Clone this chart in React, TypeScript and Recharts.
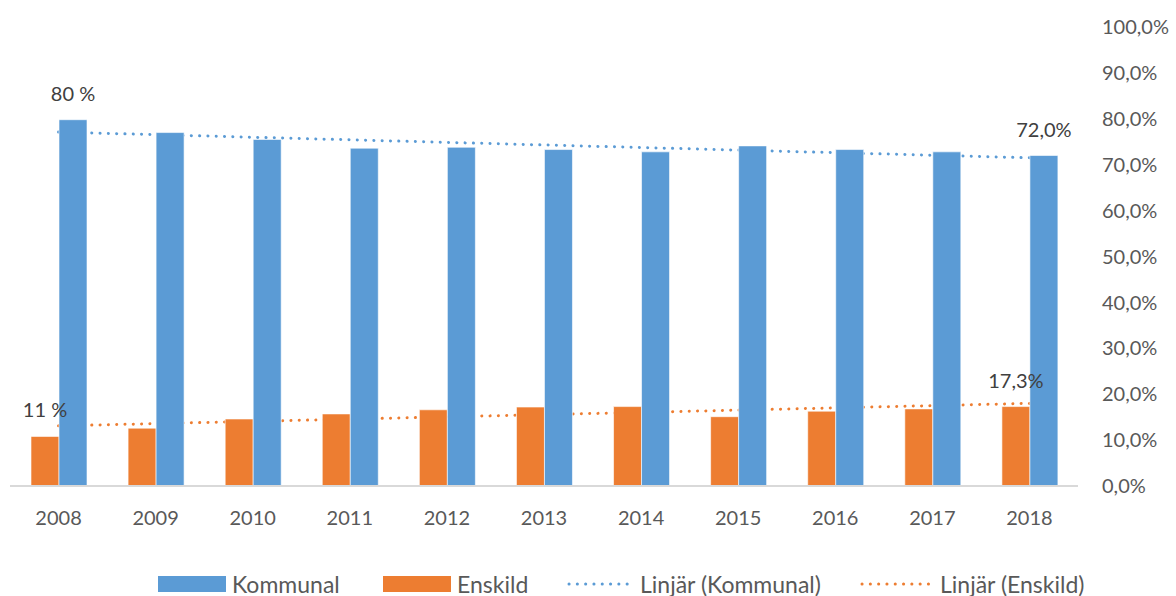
import React from "react";
import {
  ComposedChart, Bar, Line, XAxis, YAxis, Legend, LabelList,
} from "recharts";

const years = ["2008", "2009", "2010", "2011", "2012", "2013", "2014", "2015", "2016", "2017", "2018"];

// andel i procent
const kommunal = [79.8, 77.0, 75.5, 73.6, 73.8, 73.3, 72.8, 74.1, 73.3, 72.8, 72.0];
const enskild = [10.8, 12.6, 14.6, 15.7, 16.6, 17.2, 17.3, 15.1, 16.3, 16.8, 17.3];

// trendlinjernas ändpunkter (rak linje mellan dem)
const kommunalTrend = [77.1, null, null, null, null, null, null, null, null, null, 71.5];
const enskildTrend = [13.1, null, null, null, null, null, null, null, null, null, 18.0];

const kommunalLabels = ["80 %", "", "", "", "", "", "", "", "", "", "72,0%"];
const enskildLabels = ["11 %", "", "", "", "", "", "", "", "", "", "17,3%"];

const yTicks = [0, 10, 20, 30, 40, 50, 60, 70, 80, 90, 100];

const BLUE = "#5B9BD5";
const ORANGE = "#ED7D31";
const FONT = "Lato, 'Open Sans', sans-serif";

const data = years.map((year, i) => ({
  year,
  kommunal: kommunal[i],
  enskild: enskild[i],
  kommunalTrend: kommunalTrend[i],
  enskildTrend: enskildTrend[i],
  kLabel: kommunalLabels[i],
  eLabel: enskildLabels[i],
}));

const pct = (v: number) => `${v.toFixed(1).replace(".", ",")}%`;

function BarLabel(props: any) {
  const { value } = props;
  if (!value) return null;
  const vb = props.viewBox || props;
  const x = vb.x + vb.width / 2;
  return (
    <text
      x={x}
      y={vb.y - 24}
      textAnchor="middle"
      dominantBaseline="middle"
      fontSize={20}
      fontFamily={FONT}
      fill="#404040"
    >
      {value}
    </text>
  );
}

function DottedIcon({ color, width }: { color: string; width: number }) {
  return (
    <svg width={width} height={16} style={{ display: "block" }}>
      <line
        x1={2} y1={8} x2={width - 2} y2={8}
        stroke={color}
        strokeWidth={3}
        strokeLinecap="round"
        strokeDasharray="0.1 8.2"
      />
    </svg>
  );
}

// legendens x-positioner relativt legendrutan (som börjar vid x=10)
function ChartLegend() {
  const text: React.CSSProperties = {
    position: "absolute", top: 0, lineHeight: "24px",
    fontSize: 23, color: "#595959", fontFamily: FONT, whiteSpace: "nowrap",
  };
  const box = (c: string, left: number): React.CSSProperties => ({
    position: "absolute", left, top: 4, width: 68, height: 16, background: c,
  });
  return (
    <div style={{ position: "relative", height: 24 }}>
      <div style={box(BLUE, 148)} />
      <span style={{ ...text, left: 222 }}>Kommunal</span>
      <div style={box(ORANGE, 373)} />
      <span style={{ ...text, left: 447 }}>Enskild</span>
      <div style={{ position: "absolute", left: 557, top: 4 }}><DottedIcon color={BLUE} width={70} /></div>
      <span style={{ ...text, left: 630 }}>Linjär (Kommunal)</span>
      <div style={{ position: "absolute", left: 850, top: 4 }}><DottedIcon color={ORANGE} width={76} /></div>
      <span style={{ ...text, left: 930 }}>Linjär (Enskild)</span>
    </div>
  );
}

export default function App() {
  return (
    <div style={{ position: "absolute", left: 0, top: 0, width: 1176, height: 596, background: "#fff", fontFamily: FONT }}>
      <ComposedChart
        width={1176}
        height={596}
        data={data}
        margin={{ top: 27, right: 0, bottom: 0, left: 10 }}
        barGap={0}
        barCategoryGap="21%"
      >
        <XAxis
          dataKey="year"
          height={86}
          axisLine={{ stroke: "#D9D9D9", strokeWidth: 2 }}
          tickLine={false}
          tickSize={0}
          tickMargin={25}
          tick={{ fontSize: 20, fill: "#595959", fontFamily: FONT }}
        />
        <YAxis
          yAxisId="right"
          orientation="right"
          width={98}
          domain={[0, 100]}
          ticks={yTicks}
          tickFormatter={pct}
          axisLine={false}
          tickLine={false}
          tickSize={0}
          tickMargin={24}
          tick={{ fontSize: 20, fill: "#595959", fontFamily: FONT, textAnchor: "start" }}
        />
        <Line
          yAxisId="right"
          dataKey="kommunalTrend"
          stroke={BLUE}
          strokeWidth={3}
          strokeLinecap="round"
          strokeDasharray="0.1 8.2"
          connectNulls
          dot={false}
          activeDot={false}
          isAnimationActive={false}
          zIndex={100}
        />
        <Line
          yAxisId="right"
          dataKey="enskildTrend"
          stroke={ORANGE}
          strokeWidth={3}
          strokeLinecap="round"
          strokeDasharray="0.1 8.2"
          connectNulls
          dot={false}
          activeDot={false}
          isAnimationActive={false}
          zIndex={100}
        />
        <Bar yAxisId="right" dataKey="enskild" fill={ORANGE} barSize={28} stroke="#fff" strokeWidth={0.6} isAnimationActive={false}>
          <LabelList dataKey="eLabel" content={BarLabel} />
        </Bar>
        <Bar yAxisId="right" dataKey="kommunal" fill={BLUE} barSize={28} stroke="#fff" strokeWidth={0.6} isAnimationActive={false}>
          <LabelList dataKey="kLabel" content={BarLabel} />
        </Bar>
        <Legend verticalAlign="bottom" content={ChartLegend} />
      </ComposedChart>
    </div>
  );
}
